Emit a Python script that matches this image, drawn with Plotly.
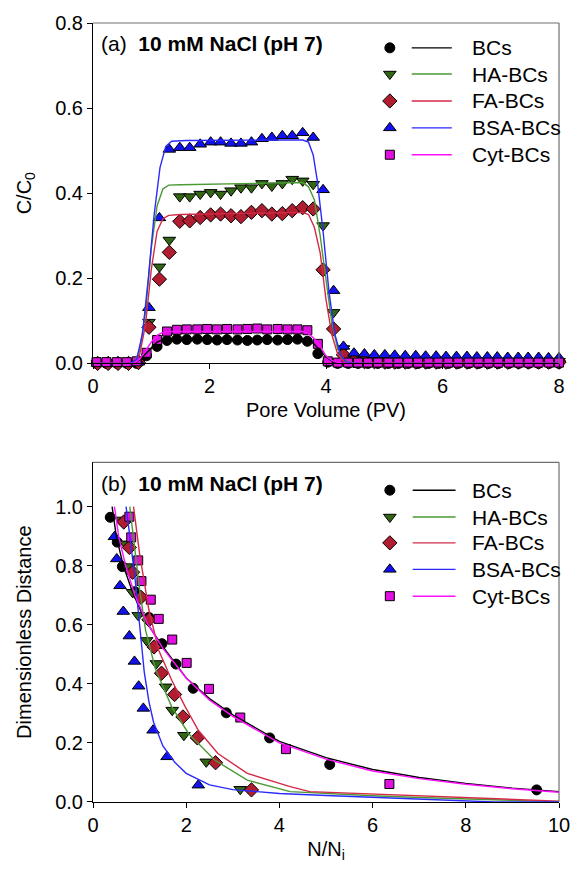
import plotly.graph_objects as go

# ---------------- Panel (a): breakthrough curves ----------------
pv_a = [0.08, 0.26, 0.43, 0.61, 0.78, 0.96, 1.14, 1.31, 1.49, 1.66, 1.84, 2.02, 2.19, 2.37,
        2.54, 2.72, 2.90, 3.07, 3.25, 3.42, 3.60, 3.78, 3.95, 4.13, 4.30, 4.48, 4.66, 4.83,
        5.01, 5.18, 5.36, 5.54, 5.71, 5.89, 6.06, 6.24, 6.42, 6.59, 6.77, 6.94, 7.12, 7.30,
        7.47, 7.65, 7.82, 8.00]
pv_b = [0.06, 0.23, 0.41, 0.58, 0.75, 0.92, 1.10, 1.27, 1.44, 1.61, 1.79, 1.96, 2.13, 2.30,
        2.48, 2.65, 2.82, 2.99, 3.17, 3.34, 3.51, 3.68, 3.86, 4.03, 4.20, 4.38, 4.55, 4.72,
        4.89, 5.07, 5.24, 5.41, 5.58, 5.76, 5.93, 6.10, 6.27, 6.45, 6.62, 6.79, 6.96, 7.14,
        7.31, 7.48, 7.65, 7.83, 8.00]

bsa_a = [0.0, 0.0, 0.0, 0.0, 0.003, 0.131, 0.342,
         0.503, 0.507, 0.507, 0.515, 0.520, 0.520, 0.517, 0.517, 0.520, 0.528, 0.531, 0.535,
         0.535, 0.542, 0.531,
         0.408, 0.171, 0.040,
         0.024, 0.022, 0.020, 0.020, 0.019, 0.018, 0.018, 0.017, 0.017, 0.016, 0.016, 0.016,
         0.015, 0.015, 0.015, 0.014, 0.014, 0.014, 0.014, 0.013, 0.013]
ha_a = [0.0, 0.0, 0.0, 0.0, 0.002, 0.097, 0.227, 0.290,
        0.392, 0.392, 0.398, 0.402, 0.398, 0.406, 0.413, 0.413, 0.423, 0.417, 0.423, 0.433,
        0.429, 0.421,
        0.324, 0.120, 0.035,
        0.012, 0.008, 0.006, 0.005, 0.005, 0.005, 0.005, 0.005, 0.005, 0.005, 0.005, 0.005,
        0.005, 0.005, 0.005, 0.005, 0.005, 0.005, 0.005, 0.005, 0.005]
fa_a = [0.0, 0.0, 0.0, 0.0, 0.002, 0.085, 0.198, 0.261,
        0.334, 0.335, 0.343, 0.349, 0.351, 0.347, 0.345, 0.355, 0.359, 0.351, 0.352, 0.359,
        0.366, 0.363,
        0.220, 0.081, 0.020,
        0.006, 0.004, 0.004, 0.003, 0.003, 0.003, 0.003, 0.003, 0.003, 0.003, 0.003, 0.003,
        0.003, 0.003, 0.003, 0.003, 0.003, 0.003, 0.003, 0.003, 0.003]
bcs_a = [0.0, 0.0, 0.0, 0.0, 0.0, 0.018, 0.040, 0.054,
         0.057, 0.056, 0.057, 0.056, 0.055, 0.056, 0.055, 0.054, 0.055, 0.056, 0.055, 0.056,
         0.057, 0.052, 0.023, 0.003,
         0.0, 0.0, 0.0, 0.0, 0.0, 0.0, 0.0, 0.0, 0.0, 0.0, 0.0, 0.0, 0.0, 0.0, 0.0, 0.0, 0.0,
         0.0, 0.0, 0.0, 0.0, 0.0, 0.0]
cyt_a = [0.003, 0.003, 0.003, 0.003, 0.005, 0.025, 0.055, 0.075,
         0.079, 0.080, 0.080, 0.081, 0.080, 0.081, 0.080, 0.081, 0.082, 0.080, 0.081, 0.080,
         0.080, 0.078, 0.046, 0.005,
         0.002, 0.002, 0.002, 0.002, 0.002, 0.002, 0.002, 0.002, 0.002, 0.002, 0.002, 0.002,
         0.002, 0.002, 0.002, 0.002, 0.002, 0.002, 0.002, 0.002, 0.002, 0.002, 0.002]

# fitted model curves, panel (a)
bsa_fit_x = [0, 0.65, 0.75, 0.85, 0.95, 1.05, 1.15, 1.25, 1.35, 1.6, 3.0, 3.6, 3.7, 3.78,
             3.85, 3.95, 4.05, 4.15, 4.25, 4.35, 4.5, 8]
bsa_fit_y = [0, 0, 0.01, 0.07, 0.2, 0.35, 0.46, 0.51, 0.522, 0.524, 0.525, 0.525, 0.52, 0.49,
             0.43, 0.31, 0.17, 0.07, 0.02, 0.003, 0, 0]
ha_fit_x = [0, 0.7, 0.8, 0.9, 1.0, 1.1, 1.2, 1.3, 1.5, 3.0, 3.6, 3.7, 3.8, 3.9, 4.0, 4.1,
            4.2, 4.3, 4.45, 8]
ha_fit_y = [0, 0, 0.03, 0.12, 0.27, 0.37, 0.41, 0.419, 0.42, 0.424, 0.425, 0.415, 0.385, 0.30,
            0.195, 0.095, 0.035, 0.008, 0, 0]
fa_fit_x = [0, 0.7, 0.8, 0.9, 1.0, 1.1, 1.2, 1.3, 1.5, 3.0, 3.6, 3.7, 3.8, 3.9, 4.0, 4.1,
            4.2, 4.3, 4.45, 8]
fa_fit_y = [0, 0, 0.02, 0.09, 0.22, 0.31, 0.34, 0.348, 0.35, 0.353, 0.355, 0.35, 0.32, 0.26,
            0.15, 0.068, 0.022, 0.005, 0, 0]
bcs_fit_x = [0, 0.7, 0.8, 0.9, 1.0, 1.1, 1.2, 1.3, 3.6, 3.7, 3.8, 3.9, 4.0, 4.1, 4.2, 4.4, 8]
bcs_fit_y = [0, 0, 0.008, 0.022, 0.038, 0.05, 0.056, 0.058, 0.058, 0.055, 0.045, 0.03,
             0.015, 0.006, 0.001, 0, 0]
cyt_fit_x = [0, 0.7, 0.8, 0.9, 1.0, 1.1, 1.2, 1.3, 3.6, 3.7, 3.8, 3.9, 4.0, 4.1, 4.2, 4.4, 8]
cyt_fit_y = [0, 0, 0.01, 0.03, 0.05, 0.066, 0.073, 0.075, 0.075, 0.07, 0.058, 0.04, 0.018,
             0.007, 0.002, 0, 0]

# ---------------- Panel (b): retention profiles ----------------
bcs_b_x = [0.37, 0.52, 0.63, 0.90, 1.20, 1.48, 1.78, 2.15, 2.86, 3.79, 5.08, 9.52]
bcs_b_y = [0.964, 0.880, 0.797, 0.712, 0.625, 0.536, 0.467, 0.385, 0.302, 0.217, 0.127, 0.041]
ha_b_x = [0.60, 0.70, 0.78, 0.85, 0.97, 1.15, 1.36, 1.56, 1.70, 1.95, 2.43, 3.16]
ha_b_y = [0.955, 0.874, 0.797, 0.710, 0.632, 0.547, 0.469, 0.390, 0.311, 0.226, 0.136, 0.043]
fa_b_x = [0.66, 0.78, 0.85, 1.03, 1.20, 1.31, 1.47, 1.75, 1.93, 2.24, 2.63, 3.40]
fa_b_y = [0.948, 0.862, 0.778, 0.693, 0.617, 0.525, 0.436, 0.364, 0.288, 0.217, 0.133, 0.041]
bsa_b_x = [0.46, 0.51, 0.58, 0.65, 0.78, 0.89, 0.98, 1.08, 1.29, 1.59, 2.26]
bsa_b_y = [0.898, 0.823, 0.732, 0.645, 0.562, 0.476, 0.392, 0.317, 0.243, 0.153, 0.057]
cyt_b_x = [0.78, 0.82, 0.97, 1.04, 1.24, 1.41, 1.70, 2.01, 2.49, 3.16, 4.14, 6.36]
cyt_b_y = [0.966, 0.896, 0.818, 0.748, 0.685, 0.620, 0.550, 0.471, 0.383, 0.286, 0.179, 0.061]

bcs_bfit_x = [0.41, 0.5, 0.65, 0.85, 1.1, 1.48, 2.0, 2.5, 3.0, 4.0, 5.0, 6.0, 7.0, 8.0, 9.0, 10.0]
bcs_bfit_y = [1.0, 0.9, 0.8, 0.71, 0.62, 0.53, 0.42, 0.35, 0.295, 0.205, 0.15, 0.11, 0.083,
              0.063, 0.047, 0.035]
cyt_bfit_x = [0.46, 0.55, 0.7, 0.9, 1.15, 1.5, 2.0, 2.5, 3.0, 4.0, 5.0, 6.0, 7.0, 8.0, 9.0, 10.0]
cyt_bfit_y = [1.0, 0.9, 0.8, 0.7, 0.61, 0.52, 0.42, 0.345, 0.29, 0.2, 0.145, 0.105, 0.079,
              0.06, 0.045, 0.033]
bsa_bfit_x = [0.71, 0.8, 0.9, 1.0, 1.1, 1.2, 1.3, 1.5, 1.75, 2.0, 2.5, 3.0, 4.0, 5.0, 6.0,
              7.0, 8.0, 8.6, 10.0]
bsa_bfit_y = [1.0, 0.88, 0.76, 0.6, 0.44, 0.34, 0.27, 0.19, 0.135, 0.097, 0.058, 0.042, 0.029,
              0.022, 0.016, 0.01, 0.005, 0.0, 0.0]
ha_bfit_x = [0.79, 0.9, 1.0, 1.13, 1.34, 1.69, 2.05, 2.61, 3.31, 4.23, 5.0, 6.0, 7.0, 8.0,
             9.0, 10.0]
ha_bfit_y = [1.0, 0.85, 0.72, 0.58, 0.45, 0.322, 0.232, 0.142, 0.074, 0.035, 0.028, 0.021,
             0.015, 0.01, 0.005, 0.001]
fa_bfit_x = [0.87, 1.0, 1.2, 1.41, 1.69, 1.98, 2.26, 2.68, 3.31, 4.23, 4.65, 6.0, 8.0, 10.0]
fa_bfit_y = [1.0, 0.84, 0.65, 0.514, 0.412, 0.322, 0.243, 0.164, 0.097, 0.052, 0.035, 0.027,
             0.015, 0.003]

names = ["BCs", "HA-BCs", "FA-BCs", "BSA-BCs", "Cyt-BCs"]
symbols = ["circle", "triangle-down", "diamond", "triangle-up", "square"]
fills = ["#000000", "#336614", "#b01c30", "#1212f0", "#e010e0"]
linecols = ["#000000", "#4a9a34", "#d42a48", "#2a2aff", "#ff10ff"]
msizes = [10, 11, 11, 11, 9]

FONT = "Arial, Liberation Sans, sans-serif"

fig = go.Figure()

top_pts = [(pv_b, bcs_a), (pv_a, ha_a), (pv_a, fa_a), (pv_a, bsa_a), (pv_b, cyt_a)]
top_fit = [(bcs_fit_x, bcs_fit_y), (ha_fit_x, ha_fit_y), (fa_fit_x, fa_fit_y),
           (bsa_fit_x, bsa_fit_y), (cyt_fit_x, cyt_fit_y)]
bot_pts = [(bcs_b_x, bcs_b_y), (ha_b_x, ha_b_y), (fa_b_x, fa_b_y), (bsa_b_x, bsa_b_y),
           (cyt_b_x, cyt_b_y)]
bot_fit = [(bcs_bfit_x, bcs_bfit_y), (ha_bfit_x, ha_bfit_y), (fa_bfit_x, fa_bfit_y),
           (bsa_bfit_x, bsa_bfit_y), (cyt_bfit_x, cyt_bfit_y)]

def marker(i):
    return dict(symbol=symbols[i], size=msizes[i], color=fills[i],
                line=dict(color="#000000", width=1))

for (pts, fits, xa, ya) in [(top_pts, top_fit, "x", "y"), (bot_pts, bot_fit, "x2", "y2")]:
    for i in range(5):
        fig.add_trace(go.Scatter(x=pts[i][0], y=pts[i][1], mode="markers", marker=marker(i),
                                 xaxis=xa, yaxis=ya, cliponaxis=False, showlegend=False,
                                 name=names[i]))
    for i in range(5):
        fig.add_trace(go.Scatter(x=fits[i][0], y=fits[i][1], mode="lines",
                                 line=dict(color=linecols[i], width=1.4),
                                 xaxis=xa, yaxis=ya, showlegend=False, name=names[i]))

# Custom legends (marker to the left of the line), drawn on hidden overlay axes [0,1]
leg_rows_top = [0.927, 0.850, 0.771, 0.692, 0.613]
leg_rows_bot = [0.918, 0.839, 0.763, 0.685, 0.606]
annotations = []
for (rows, xa, ya, lx0, lx1) in [(leg_rows_top, "x3", "y3", 0.684, 0.770),
                                  (leg_rows_bot, "x4", "y4", 0.686, 0.778)]:
    for i in range(5):
        fig.add_trace(go.Scatter(x=[0.637], y=[rows[i]], mode="markers", marker=marker(i),
                                 xaxis=xa, yaxis=ya, showlegend=False, hoverinfo="skip"))
        fig.add_trace(go.Scatter(x=[lx0, lx1], y=[rows[i], rows[i]], mode="lines",
                                 line=dict(color=linecols[i], width=1.4),
                                 xaxis=xa, yaxis=ya, showlegend=False, hoverinfo="skip"))
        annotations.append(dict(x=0.808, y=rows[i], xref=xa, yref=ya, text=names[i],
                                showarrow=False, xanchor="left", yanchor="middle",
                                font=dict(family=FONT, size=21, color="#000")))

annotations.append(dict(x=0.012, y=0.941, xref="x domain", yref="y domain",
                        text="(a)&nbsp;&nbsp;<b>10 mM NaCl (pH 7)</b>", showarrow=False,
                        xanchor="left", yanchor="middle",
                        font=dict(family=FONT, size=21, color="#000")))
annotations.append(dict(x=0.012, y=0.938, xref="x2 domain", yref="y2 domain",
                        text="(b)&nbsp;&nbsp;<b>10 mM NaCl (pH 7)</b>", showarrow=False,
                        xanchor="left", yanchor="middle",
                        font=dict(family=FONT, size=21, color="#000")))

tickfont = dict(family=FONT, size=20, color="#000")
titlefont = dict(family=FONT, size=20, color="#000")
axis_common = dict(showgrid=False, zeroline=False, showline=True, linecolor="#000",
                   linewidth=1, ticks="outside", ticklen=5, tickcolor="#000",
                   tickfont=tickfont)

shapes = []
for xd, yd in [("x domain", "y domain"), ("x2 domain", "y2 domain")]:
    shapes.append(dict(type="line", xref=xd, yref=yd, x0=0, x1=1, y0=1, y1=1,
                       line=dict(color="#707070", width=1.2)))
    shapes.append(dict(type="line", xref=xd, yref=yd, x0=1, x1=1, y0=0, y1=1,
                       line=dict(color="#707070", width=1.2)))

fig.update_layout(
    width=582, height=869,
    margin=dict(l=93, r=15, t=22, b=67),
    paper_bgcolor="white", plot_bgcolor="white",
    font=dict(family=FONT, color="#000"),
    showlegend=False,
    xaxis=dict(domain=[0, 1], anchor="y", range=[0, 8], tickvals=[0, 2, 4, 6, 8],
               title=dict(text="Pore Volume (PV)", font=titlefont, standoff=6), **axis_common),
    yaxis=dict(domain=[0.563, 1], anchor="x", range=[0, 0.8],
               tickvals=[0, 0.2, 0.4, 0.6, 0.8], tickformat=".1f",
               title=dict(text="C/C<sub>0</sub>", font=titlefont, standoff=18), **axis_common),
    xaxis2=dict(domain=[0, 1], anchor="y2", range=[0, 10], tickvals=[0, 2, 4, 6, 8, 10],
                title=dict(text="N/N<sub>i</sub>", font=titlefont, standoff=6), **axis_common),
    yaxis2=dict(domain=[0, 0.436], anchor="x2", range=[0, 1.15],
                tickvals=[0, 0.2, 0.4, 0.6, 0.8, 1.0], tickformat=".1f",
                title=dict(text="Dimensionless Distance", font=titlefont, standoff=18),
                **axis_common),
    xaxis3=dict(overlaying="x", anchor="y3", range=[0, 1], visible=False),
    yaxis3=dict(overlaying="y", anchor="x3", range=[0, 1], visible=False),
    xaxis4=dict(overlaying="x2", anchor="y4", range=[0, 1], visible=False),
    yaxis4=dict(overlaying="y2", anchor="x4", range=[0, 1], visible=False),
    annotations=annotations,
    shapes=shapes,
)

fig.write_html("out.html", config={"displayModeBar": False},
               post_script="document.body.style.margin='0';document.body.style.overflow='hidden';")
